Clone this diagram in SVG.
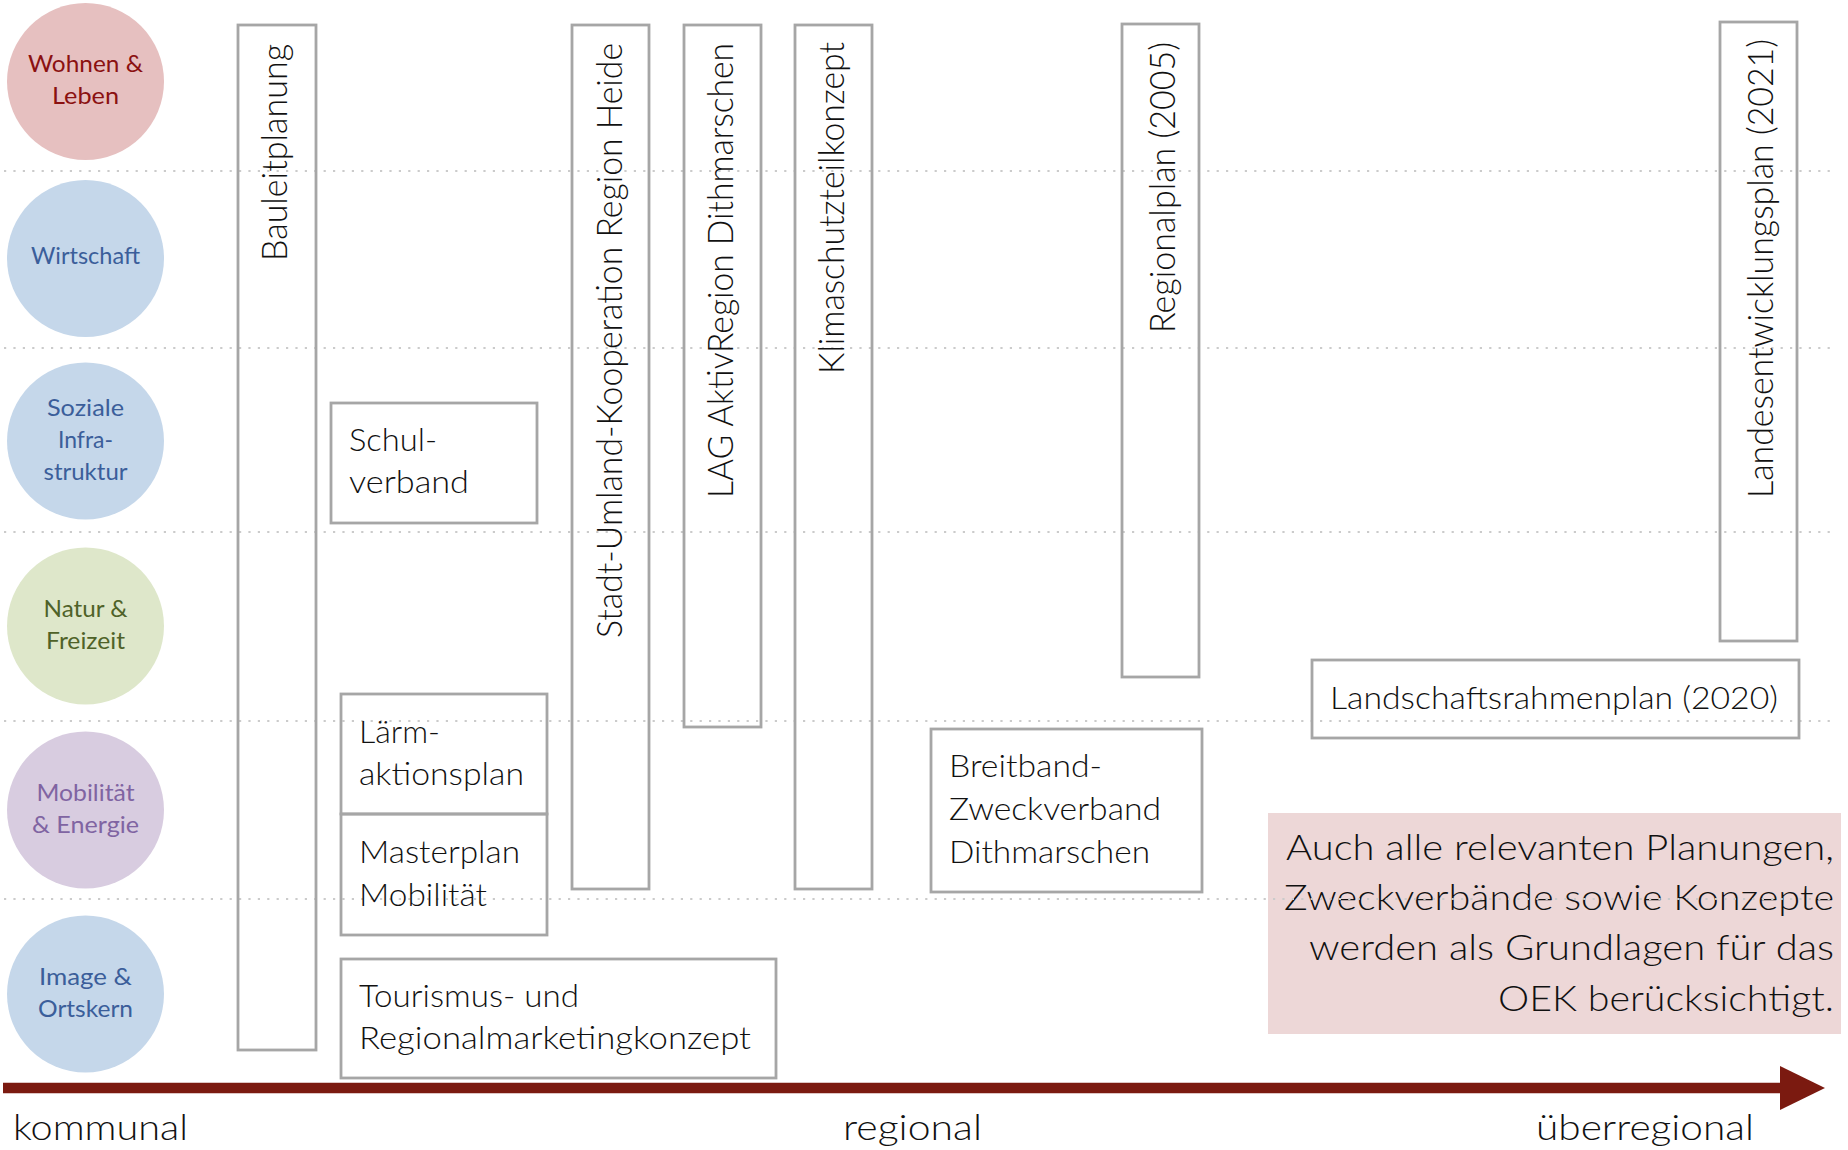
<svg xmlns="http://www.w3.org/2000/svg" width="1848" height="1150" viewBox="0 0 1848 1150">
<style>
.bg{fill:#ffffff}
.guide{stroke:#cbcbcb;stroke-width:2.2;stroke-dasharray:2.2 7.2;fill:none}
.box{fill:none;stroke:#a6a6a6;stroke-width:2.8}
.t{font-family:Lato,"Open Sans","Liberation Sans",sans-serif;fill:#111111;font-weight:300}
.bt{font-size:31px}
.vt{font-size:35px}
.ct{font-size:24px;text-anchor:middle;font-weight:400}
.ax{font-size:35px}
.note{font-size:35px;text-anchor:end}
</style>
<rect class="bg" x="0" y="0" width="1848" height="1150"/>
<g id="cat-wohnen"><circle cx="85.5" cy="81.5" r="78.5" fill="#e6c0c0"/>
<text class="t ct" style="fill:#8b1111" x="85.5" y="72" textLength="115" lengthAdjust="spacingAndGlyphs">Wohnen &amp;</text><text class="t ct" style="fill:#8b1111" x="85.5" y="104" textLength="67" lengthAdjust="spacingAndGlyphs">Leben</text></g>
<g id="cat-wirtschaft"><circle cx="85.5" cy="258.5" r="78.5" fill="#c5d7ea"/>
<text class="t ct" style="fill:#3b5e9a" x="85.5" y="264" textLength="109" lengthAdjust="spacingAndGlyphs">Wirtschaft</text></g>
<g id="cat-soziale"><circle cx="85.5" cy="441" r="78.5" fill="#c5d7ea"/>
<text class="t ct" style="fill:#3b5e9a" x="85.5" y="416" textLength="77" lengthAdjust="spacingAndGlyphs">Soziale</text><text class="t ct" style="fill:#3b5e9a" x="85.5" y="448" textLength="55" lengthAdjust="spacingAndGlyphs">Infra-</text><text class="t ct" style="fill:#3b5e9a" x="85.5" y="480" textLength="84" lengthAdjust="spacingAndGlyphs">struktur</text></g>
<g id="cat-natur"><circle cx="85.5" cy="626" r="78.5" fill="#dee7ca"/>
<text class="t ct" style="fill:#4f6228" x="85.5" y="617" textLength="84" lengthAdjust="spacingAndGlyphs">Natur &amp;</text><text class="t ct" style="fill:#4f6228" x="85.5" y="649" textLength="79" lengthAdjust="spacingAndGlyphs">Freizeit</text></g>
<g id="cat-mobilitaet"><circle cx="85.5" cy="810" r="78.5" fill="#d8cce0"/>
<text class="t ct" style="fill:#8064a2" x="85.5" y="801" textLength="98" lengthAdjust="spacingAndGlyphs">Mobilität</text><text class="t ct" style="fill:#8064a2" x="85.5" y="833" textLength="107" lengthAdjust="spacingAndGlyphs">&amp; Energie</text></g>
<g id="cat-image"><circle cx="85.5" cy="994" r="78.5" fill="#c5d7ea"/>
<text class="t ct" style="fill:#3b5e9a" x="85.5" y="985" textLength="93" lengthAdjust="spacingAndGlyphs">Image &amp;</text><text class="t ct" style="fill:#3b5e9a" x="85.5" y="1017" textLength="95" lengthAdjust="spacingAndGlyphs">Ortskern</text></g>

<g id="hinweis"><rect x="1268" y="813" width="573" height="221" fill="#edd7d7"/>
<text class="t note" x="1834" y="860" textLength="548" lengthAdjust="spacingAndGlyphs">Auch alle relevanten Planungen,</text>
<text class="t note" x="1834" y="910" textLength="550" lengthAdjust="spacingAndGlyphs">Zweckverbände sowie Konzepte</text>
<text class="t note" x="1834" y="960" textLength="525" lengthAdjust="spacingAndGlyphs">werden als Grundlagen für das</text>
<text class="t note" x="1834" y="1011" textLength="336" lengthAdjust="spacingAndGlyphs">OEK berücksichtigt.</text></g>

<g id="guides">
<line class="guide" x1="4" y1="171" x2="1832" y2="171"/>
<line class="guide" x1="4" y1="348" x2="1832" y2="348"/>
<line class="guide" x1="4" y1="532" x2="1832" y2="532"/>
<line class="guide" x1="4" y1="721" x2="1832" y2="721"/>
<line class="guide" x1="4" y1="899" x2="1832" y2="899"/>
</g>

<g id="bauleitplanung"><rect class="box" x="238" y="25" width="78" height="1025"/>
<text class="t vt" text-anchor="end" transform="translate(287,44) rotate(-90)" textLength="217" lengthAdjust="spacingAndGlyphs">Bauleitplanung</text></g>
<g id="stadt-umland"><rect class="box" x="572" y="25" width="77" height="864"/>
<text class="t vt" text-anchor="end" transform="translate(622,43) rotate(-90)" textLength="595" lengthAdjust="spacingAndGlyphs">Stadt-Umland-Kooperation Region Heide</text></g>
<g id="lag"><rect class="box" x="684" y="25" width="77" height="702"/>
<text class="t vt" text-anchor="end" transform="translate(733,43) rotate(-90)" textLength="455" lengthAdjust="spacingAndGlyphs">LAG AktivRegion Dithmarschen</text></g>
<g id="klimaschutz"><rect class="box" x="795" y="25" width="77" height="864"/>
<text class="t vt" text-anchor="end" transform="translate(844,42) rotate(-90)" textLength="332" lengthAdjust="spacingAndGlyphs">Klimaschutzteilkonzept</text></g>
<g id="regionalplan"><rect class="box" x="1122" y="24" width="77" height="653"/>
<text class="t vt" text-anchor="end" transform="translate(1175,42) rotate(-90)" textLength="291" lengthAdjust="spacingAndGlyphs">Regionalplan (2005)</text></g>
<g id="landesentwicklungsplan"><rect class="box" x="1720" y="22" width="77" height="619"/>
<text class="t vt" text-anchor="end" transform="translate(1773,39) rotate(-90)" textLength="459" lengthAdjust="spacingAndGlyphs">Landesentwicklungsplan (2021)</text></g>

<g id="schulverband"><rect class="box" x="331" y="403" width="206" height="120"/>
<text class="t bt" x="349" y="451" textLength="88" lengthAdjust="spacingAndGlyphs">Schul-</text><text class="t bt" x="349" y="493" textLength="120" lengthAdjust="spacingAndGlyphs">verband</text></g>
<g id="laermaktionsplan"><rect class="box" x="341" y="694" width="206" height="120"/>
<text class="t bt" x="359" y="743" textLength="81" lengthAdjust="spacingAndGlyphs">Lärm-</text><text class="t bt" x="359" y="785" textLength="165" lengthAdjust="spacingAndGlyphs">aktionsplan</text></g>
<g id="masterplan"><rect class="box" x="341" y="814" width="206" height="121"/>
<text class="t bt" x="359" y="863" textLength="161" lengthAdjust="spacingAndGlyphs">Masterplan</text><text class="t bt" x="359" y="906" textLength="128" lengthAdjust="spacingAndGlyphs">Mobilität</text></g>
<g id="tourismus"><rect class="box" x="341" y="959" width="435" height="119"/>
<text class="t bt" x="359" y="1007" textLength="220" lengthAdjust="spacingAndGlyphs">Tourismus- und</text><text class="t bt" x="359" y="1049" textLength="392" lengthAdjust="spacingAndGlyphs">Regionalmarketingkonzept</text></g>
<g id="breitband"><rect class="box" x="931" y="729" width="271" height="163"/>
<text class="t bt" x="949" y="777" textLength="153" lengthAdjust="spacingAndGlyphs">Breitband-</text><text class="t bt" x="949" y="820" textLength="212" lengthAdjust="spacingAndGlyphs">Zweckverband</text><text class="t bt" x="949" y="863" textLength="201" lengthAdjust="spacingAndGlyphs">Dithmarschen</text></g>
<g id="landschaftsrahmenplan"><rect class="box" x="1312" y="660" width="487" height="78"/>
<text class="t bt" x="1330" y="709" textLength="448" lengthAdjust="spacingAndGlyphs">Landschaftsrahmenplan (2020)</text></g>

<g id="connectors">
<line x1="3" y1="1088" x2="1782" y2="1088" stroke="#7b1a10" stroke-width="10.5"/>
<polygon points="1780,1066 1825,1088 1780,1110" fill="#7b1a10"/>
</g>
<g id="axis-labels">
<text class="t ax" x="13" y="1140" textLength="175" lengthAdjust="spacingAndGlyphs">kommunal</text>
<text class="t ax" x="843" y="1140" textLength="139" lengthAdjust="spacingAndGlyphs">regional</text>
<text class="t ax" x="1536" y="1140" textLength="218" lengthAdjust="spacingAndGlyphs">überregional</text>
</g>
</svg>
